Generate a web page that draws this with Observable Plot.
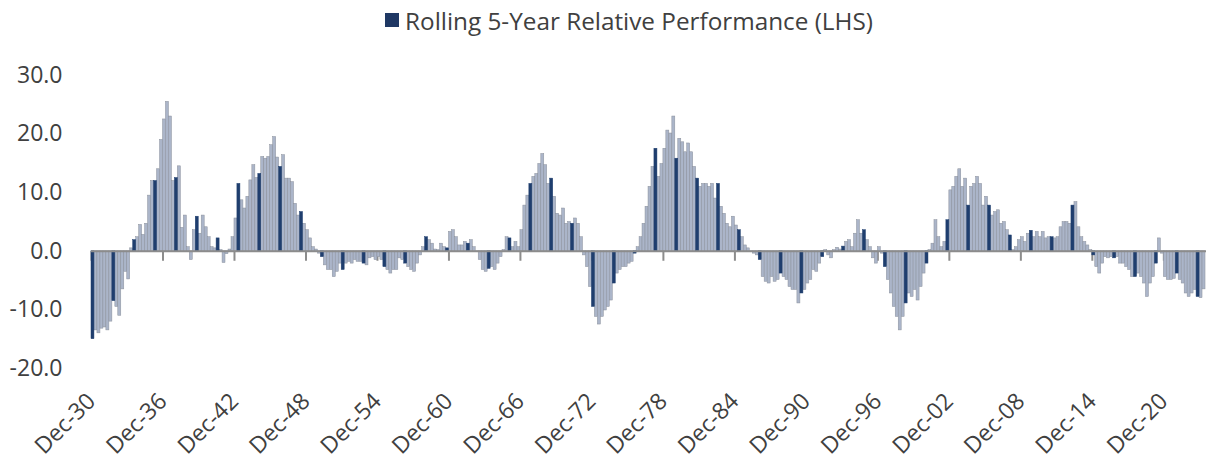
<!DOCTYPE html>
<html>
<head>
<meta charset="utf-8">
<script src="https://cdn.jsdelivr.net/npm/d3@7"></script>
<script src="https://cdn.jsdelivr.net/npm/@observablehq/plot@0.6"></script>
<style>
  html, body { margin: 0; padding: 0; background: #fff; }
  body { width: 1206px; height: 463px; overflow: hidden; font-family: "Open Sans", sans-serif; }
  #legend { height: 40px; display: flex; align-items: center; justify-content: center; padding-left: 52px; box-sizing: border-box;
            font-size: 24.3px; color: #404040; }
  #legend .sw { width: 14px; height: 14px; background: #1f3864; margin-right: 6px; }
</style>
</head>
<body>
<div id="legend"><span class="sw"></span><span>Rolling 5-Year Relative Performance (LHS)</span></div>
<div id="chart"></div>
<script>
// Quarterly readings of the rolling 5-year relative performance, starting Dec-1930
const seriesStart = "1930-12-01";
const perf1931_1942 = [-15.0, -13.5, -14.0, -13.2, -13.0, -13.5, -12.0, -8.5, -9.5, -11.0, -6.5, -3.5, -4.8, 0.5,
  1.9, 2.4, 4.5, 2.8, 4.7, 9.5, 12.0, 12.0, 14.0, 19.0, 22.5, 25.5, 23.0, 12.0, 12.5, 14.5, 4.0,
  6.1, 0.7, -1.5, 3.6, 5.9, 3.0, 6.1, 4.1, 2.4, 0.7, 0.5, 2.2, 0.2, -2.0, -0.5, 0.3];
const perf1942_1954 = [2.4, 5.6, 11.5, 8.7, 7.3, 9.3, 12.1, 14.7, 12.5, 13.2, 16.1, 15.8, 16.1, 18.1, 19.5, 16.0,
  14.4, 16.4, 12.4, 12.4, 11.8, 8.1, 6.1, 6.7, 4.7, 3.6, 2.2, 0.7, 0.3, -0.4, -1.0, -2.4, -3.2, -3.2, -4.4, -3.5,
  -2.1, -3.2, -2.1, -1.8, -2.1, -1.5, -1.8, -1.8, -2.1, -2.4, -1.2, -1.0];
const perf1954_1970 = [-1.5, -1.0, -1.5, -2.7, -3.2, -3.8, -3.2, -3.2, -1.2, -1.5, -2.1, -2.7, -3.2, -3.5, -2.1, -0.7,
  0.7, 2.4, 1.9, 1.3, 0.3, 0.2, 1.3, 0.7, 0.5, 3.3, 3.6, 2.4, 1.0, 1.0, 1.6, 1.3,
  1.9, 0.7, -0.1, -1.5, -3.2, -3.5, -3.0, -2.7, -3.2, -2.1, -1.0, 0.2, 2.4, 2.2, 0.7, 1.6, 0.7, 3.6, 7.8, 9.5,
  11.5, 12.7, 13.2, 14.9, 16.6, 14.7, 11.5, 12.4, 9.3, 6.4, 6.1];
const perf1970_1986 = [7.3, 4.7, 5.0, 4.7, 5.6, 4.7, 2.4, -0.7, -2.7, -6.1, -9.5, -11.2, -12.5, -11.2, -10.1, -9.5,
  -8.4, -5.5, -3.8, -3.2, -2.7, -2.7, -2.1, -1.8, -0.4, 0.7, 2.4, 4.7, 7.6, 11.0, 14.4, 17.5,
  12.7, 14.9, 17.5, 20.6, 20.1, 23.0, 15.8, 19.2, 18.6, 16.9, 18.4, 16.9, 14.4, 12.4, 11.0, 11.5, 11.5, 11.0,
  11.5, 9.0, 11.5, 7.6, 6.4, 4.7, 4.1, 5.9, 4.4, 3.6, 2.4, 1.0, 0.5];
const perf1986_2002 = [-0.1, -0.4, -0.7, -1.5, -4.4, -5.2, -5.5, -4.4, -5.2, -4.9, -3.8, -4.4, -4.9, -6.1, -6.6, -6.6,
  -8.9, -7.2, -6.6, -5.5, -4.9, -3.2, -3.5, -2.1, -1.0, 0.2, -0.7, -1.2, 0.2, 0.6, 0.3, 0.8,
  1.6, 1.9, 0.7, 3.0, 5.3, 3.0, 3.6, 1.9, 0.7, -1.2, -2.1, 0.7, -0.4, -2.7, -4.9, -7.2, -9.5, -11.2,
  -13.5, -11.2, -8.9, -7.2, -7.8, -6.6, -8.4, -6.1, -3.8, -2.1, 0.2, 1.3, 5.3, 2.4];
const perf2002_2013 = [0.7, 1.6, 5.3, 10.4, 11.0, 12.7, 14.0, 11.0, 12.4, 7.8, 11.0, 11.5, 12.7, 11.5, 7.8, 9.3,
  7.8, 6.1, 6.7, 7.0, 4.7, 5.0, 3.6, 2.7, 0.2, 0.7, 1.9, 2.4, 1.6, 3.0, 3.5,
  2.4, 3.3, 2.4, 3.3, 2.2, 2.4, 2.4, 2.2, 2.4, 4.1, 5.0, 5.0, 4.7, 7.8, 8.4, 4.1];
const perf2013_2024 = [2.4, 1.6, 1.0, 0.2, -0.7, -2.7, -3.8, -2.1, -1.0, -1.2, -1.0, -1.2, -1.0, -2.1, -2.1, -2.7,
  -3.2, -4.4, -4.4, -3.8, -4.4, -5.5, -7.8, -5.5, -4.4, -2.1, 2.2, -0.4, -4.4, -4.9, -4.9, -4.7, -3.8,
  -4.9, -5.5, -7.2, -7.8, -7.2, -6.6, -7.8, -8.0, -6.5];

const tickYears = [1930, 1936, 1942, 1948, 1954, 1960, 1966, 1972, 1978, 1984, 1990, 1996, 2002, 2008, 2014, 2020];
const yTicks = [-20, -10, 0, 10, 20, 30];

const values = [].concat(perf1931_1942, perf1942_1954, perf1954_1970, perf1970_1986, perf1986_2002, perf2002_2013, perf2013_2024);
const t0 = new Date(seriesStart);
const data = values.map((v, i) => ({
  i, v,
  d0: d3.utcMonth.offset(t0, 3 * i),
  d1: d3.utcMonth.offset(t0, 3 * (i + 1))
}));
const tickDates = tickYears.map(y => new Date(Date.UTC(y, 11, 1)));

const navy = "#1f3e6e";
const light = "#abb5c9";
const axisGray = "#8c8c8c";

const chart = Plot.plot({
  width: 1206,
  height: 423,
  marginLeft: 91,
  marginRight: 0,
  marginTop: 35,
  marginBottom: 95,
  style: { fontSize: "23px", fontFamily: "'Open Sans', sans-serif", color: "#404040", background: "#fff" },
  x: {
    type: "utc",
    domain: [new Date("1930-12-01"), new Date("2024-07-01")],
    ticks: tickDates,
    tickFormat: d => "Dec-" + String(d.getUTCFullYear() % 100).padStart(2, "0"),
    tickRotate: -45,
    tickSize: 0,
    tickPadding: 29,
    label: null,
    line: false
  },
  y: {
    domain: [-20, 30],
    ticks: yTicks,
    tickFormat: d => d.toFixed(1),
    tickSize: 0,
    tickPadding: 29,
    label: null
  },
  marks: [
    Plot.ruleX(tickDates, { x: d => d, y1: 0, y2: -1.7, stroke: axisGray, strokeWidth: 2 }),
    Plot.rectY(data, { filter: d => d.i % 7 !== 0, x1: "d0", x2: "d1", y: "v", fill: light, stroke: "#8a909b", strokeWidth: 0.5, inset: 0 }),
    Plot.rectY(data, { filter: d => d.i % 7 === 0, x1: "d0", x2: "d1", y: "v", fill: navy, stroke: navy, strokeWidth: 0.5, inset: 0 }),
    Plot.ruleY([0], { stroke: axisGray, strokeWidth: 2 })
  ]
});
document.getElementById("chart").appendChild(chart);
</script>
</body>
</html>
